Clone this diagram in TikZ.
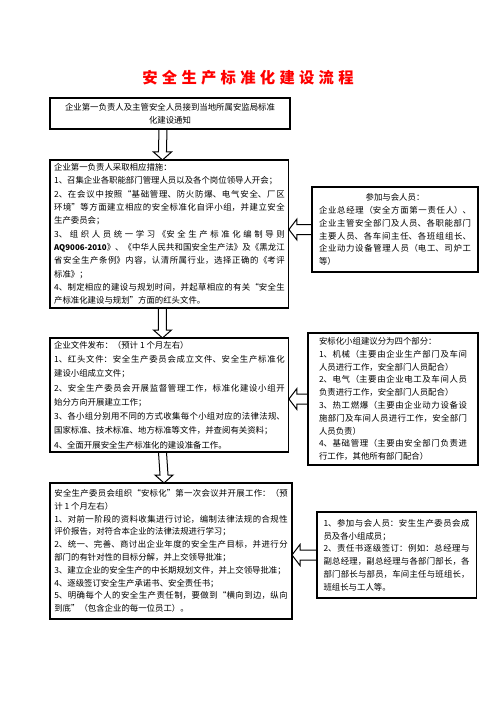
\documentclass[tikz,border=0pt]{standalone}
\usepackage{fontspec}
\setmainfont{Noto Sans CJK SC}
\usetikzlibrary{calc}
\XeTeXlinebreaklocale "zh"
\XeTeXlinebreakskip=0pt plus 1.5pt minus 0.35pt
\tolerance=10000
\hbadness=10000

\tikzset{every picture/.style={line width=0.75pt}}
\tikzset{
	flowbox/.style={draw, line width=0.8pt, anchor=north west, align=justify, inner ysep=1pt, outer sep=0pt, font=\fontsize{6.3}{9.6}\selectfont},
	blockarrow/.style={draw, line width=0.75pt, line join=miter},
}

\begin{document}
\begin{tikzpicture}[x=0.75pt,y=0.75pt,yscale=-1,xscale=1]
	\useasboundingbox (0,0) rectangle (496,702);

	% Text Node
	\node[red, font=\fontsize{11.5}{12}\selectfont\bfseries] (title) at (248,78) {安\kern3.2pt全\kern3.2pt生\kern3.2pt产\kern3.2pt标\kern3.2pt准\kern3.2pt化\kern3.2pt建\kern3.2pt设\kern3.2pt流\kern3.2pt程};

	%Shape: Rectangle
	\node[flowbox, text width=172.5pt, inner xsep=3.75pt, minimum height=23.25pt] (notice) at (50,98) {\centerline{企业第一负责人及主管安全人员接到当地所属安监局标准}\par
		\centerline{化建设通知}};
	%Shape: Rectangle
	\node[flowbox, font=\fontsize{6.3}{10}\selectfont, text width=173pt, inner xsep=3.1pt, minimum height=111pt] (measures) at (50,160) {企业第一负责人采取相应措施：\par
		1、召集企业各职能部门管理人员以及各个岗位领导人开会；\par
		2、在会议中按照“基础管理、防火防爆、电气安全、厂区\linebreak
		环境”等方面建立相应的安全标准化自评小组，并建立安全\linebreak
		生产委员会；\par
		3、组织人员统一学习《安全生产标准化编制导则\linebreak
		{\fontsize{5.9}{10}\selectfont\bfseries AQ9006-2010}》、《中华人民共和国安全生产法》及《黑龙江\linebreak
		省安全生产条例》内容，认清所属行业，选择正确的《考评\linebreak
		标准》；\par
		4、制定相应的建设与规划时间，并起草相应的有关“安全生\linebreak
		产标准化建设与规划”方面的红头文件。};
	%Shape: Rectangle
	\node[flowbox, font=\fontsize{6.3}{10.7}\selectfont, text width=173pt, inner xsep=3.1pt, minimum height=85.5pt] (release) at (50,338) {企业文件发布：（预计 1 个月左右）\par
		1、红头文件：安全生产委员会成立文件、安全生产标准化\linebreak
		建设小组成立文件；\par
		2、安全生产委员会开展监督管理工作，标准化建设小组开\linebreak
		始分方向开展建立工作；\par
		3、各小组分别用不同的方式收集每个小组对应的法律法规、\linebreak
		国家标准、技术标准、地方标准等文件，并查阅有关资料；\par
		4、全面开展安全生产标准化的建设准备工作。};
	%Shape: Rectangle
	\node[flowbox, text width=175pt, inner xsep=3.25pt, minimum height=102pt] (meeting) at (50,483) {安全生产委员会组织“安标化”第一次会议并开展工作：（预\linebreak
		计 1 个月左右）\par
		1、对前一阶段的资料收集进行讨论，编制法律法规的合规性\linebreak
		评价报告，对符合本企业的法律法规进行学习；\par
		2、统一、完善、商讨出企业年度的安全生产目标，并进行分\linebreak
		部门的有针对性的目标分解，并上交领导批准；\par
		3、建立企业的安全生产的中长期规划文件，并上交领导批准；\par
		4、逐级签订安全生产承诺书、安全责任书；\par
		5、明确每个人的安全生产责任制，要做到“横向到边，纵向\linebreak
		到底”（包含企业的每一位员工）。};

	%Shape: Rectangle
	\node[flowbox, text width=114pt, inner xsep=5.25pt, minimum height=63.75pt] (attendees) at (312,187) {\centerline{参加与会人员：}\par
		企业总经理（安全方面第一责任人）、\linebreak
		企业主管安全部门及人员、各职能部门\linebreak
		主要人员、各车间主任、各班组组长、\linebreak
		企业动力设备管理人员（电工、司炉工\linebreak
		等）};
	%Shape: Rectangle
	\node[flowbox, text width=111pt, inner xsep=8.25pt, minimum height=99pt] (groups) at (308,333) {安标化小组建议分为四个部分：\par
		1、机械（主要由企业生产部门及车间\linebreak
		人员进行工作，安全部门人员配合）\par
		2、电气（主要由企业电工及车间人员\linebreak
		负责进行工作，安全部门人员配合）\par
		3、热工燃爆（主要由企业动力设备设\linebreak
		施部门及车间人员进行工作，安全部门\linebreak
		人员负责）\par
		4、基础管理（主要由安全部门负责进\linebreak
		行工作，其他所有部门配合）};
	%Shape: Rectangle
	\node[flowbox, text width=109.5pt, inner xsep=4.9pt, minimum height=64.5pt] (duties) at (317,512) {1、参加与会人员：安生生产委员会成\linebreak
		员及各小组成员；\par
		2、责任书逐级签订：例如：总经理与\linebreak
		副总经理，副总经理与各部门部长，各\linebreak
		部门部长与部员，车间主任与班组长，\linebreak
		班组长与工人等。};

	%Straight Lines
	\draw[blockarrow] ($(notice.south)+(-11,0)$) -- ($(measures.north)+(-11,-8)$) -- ($(measures.north)+(-16,-8)$) -- ($(measures.north)+(-7,0)$) -- ($(measures.north)+(2,-8)$) -- ($(measures.north)+(-3,-8)$) -- ($(notice.south)+(-3,0)$);
	%Straight Lines
	\draw[blockarrow] ($(measures.south)+(-11,0)$) -- ($(release.north)+(-11,-8)$) -- ($(release.north)+(-16,-8)$) -- ($(release.north)+(-7,0)$) -- ($(release.north)+(2,-8)$) -- ($(release.north)+(-3,-8)$) -- ($(measures.south)+(-3,0)$);
	%Straight Lines
	\draw[blockarrow] ($(release.south)+(-11,0)$) -- ($(meeting.north)+(-11,-8)$) -- ($(meeting.north)+(-16,-8)$) -- ($(meeting.north)+(-7,0)$) -- ($(meeting.north)+(2,-8)$) -- ($(meeting.north)+(-3,-8)$) -- ($(release.south)+(-3,0)$);

	%Straight Lines
	\coordinate (tip1) at (attendees.west -| measures.east);
	\draw[blockarrow] ($(attendees.west)+(0,-5)$) -- ($(tip1)+(8,-5)$) -- ($(tip1)+(8,-10.5)$) -- (tip1) -- ($(tip1)+(8,10.5)$) -- ($(tip1)+(8,5)$) -- ($(attendees.west)+(0,5)$);
	%Straight Lines
	\coordinate (tip2) at (groups.west -| release.east);
	\draw[blockarrow] ($(groups.west)+(0,-5)$) -- ($(tip2)+(8,-5)$) -- ($(tip2)+(8,-10.5)$) -- (tip2) -- ($(tip2)+(8,10.5)$) -- ($(tip2)+(8,5)$) -- ($(groups.west)+(0,5)$);
	%Straight Lines
	\coordinate (tip3) at (duties.west -| meeting.east);
	\draw[blockarrow] ($(duties.west)+(0,-5)$) -- ($(tip3)+(8,-5)$) -- ($(tip3)+(8,-10.5)$) -- (tip3) -- ($(tip3)+(8,10.5)$) -- ($(tip3)+(8,5)$) -- ($(duties.west)+(0,5)$);

\end{tikzpicture}
\end{document}
